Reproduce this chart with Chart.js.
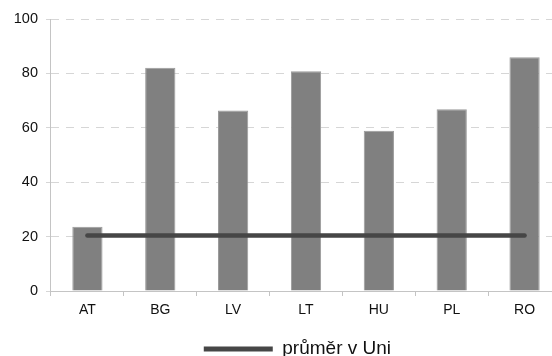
<!DOCTYPE html>
<html>
<head>
<meta charset="utf-8">
<script src="https://cdn.jsdelivr.net/npm/chart.js@4/dist/chart.umd.min.js"></script>
<style>
  html, body { margin: 0; padding: 0; background: #fff; overflow: hidden; }
  #wrap { width: 552px; height: 356px; overflow: hidden; }
  canvas { display: block; }
</style>
</head>
<body>
<div id="wrap"><canvas id="c" width="562" height="356"></canvas></div>
<script>
// Countries shown on the x axis
const countries = ['AT', 'BG', 'LV', 'LT', 'HU', 'PL', 'RO'];
// Value for each country (%)
const countryValues = [23.6, 82.1, 66.4, 80.8, 58.9, 66.8, 85.9];
// EU average, drawn as a flat line across all countries
const euAverage = 20.4;
const averageValues = countries.map(() => euAverage);
const averageLabel = 'průměr v Uni';
// Y axis range and step
const yMin = 0, yMax = 100, yStep = 20;

const FONT = '"Liberation Sans", Arial, sans-serif';

// nudges the bottom legend so it sits under the plot area
const legendShift = {
  id: 'legendShift',
  afterLayout(chart) {
    const lg = chart.legend;
    if (lg) {
      lg.left += 14; lg.right += 14;
      lg.top += 12.5; lg.bottom += 12.5;
    }
  }
};

new Chart(document.getElementById('c'), {
  data: {
    labels: countries,
    datasets: [
      {
        type: 'line',
        label: averageLabel,
        data: averageValues,
        borderColor: '#464646',
        backgroundColor: '#464646',
        borderWidth: 4.5,
        borderCapStyle: 'round',
        pointRadius: 0,
        pointHoverRadius: 0,
        order: 0
      },
      {
        type: 'bar',
        label: 'hodnota',
        data: countryValues,
        backgroundColor: '#808080',
        borderColor: '#9a9a9a',
        borderWidth: 1,
        barPercentage: 0.83,
        categoryPercentage: 0.5,
        order: 1
      }
    ]
  },
  options: {
    responsive: false,
    animation: false,
    layout: { padding: { top: 19, left: 5.8, right: 1, bottom: 0 } },
    plugins: {
      tooltip: { enabled: false },
      legend: {
        position: 'bottom',
        labels: {
          font: { family: FONT, size: 19 },
          color: '#111',
          boxWidth: 69,
          boxHeight: 5,
          padding: 2,
          generateLabels(chart) {
            return Chart.defaults.plugins.legend.labels.generateLabels(chart)
              .filter(item => item.text === averageLabel)
              .map(item => Object.assign(item, { lineWidth: 0, fillStyle: '#464646' }));
          }
        }
      }
    },
    scales: {
      x: {
        offset: true,
        grid: {
          offset: true,
          drawOnChartArea: false,
          drawTicks: true,
          tickLength: 5,
          color: '#c4c4c4'
        },
        border: { color: '#c4c4c4', width: 1 },
        ticks: { font: { family: FONT, size: 14 }, color: '#111', padding: 6.1 }
      },
      y: {
        min: yMin,
        max: yMax,
        grid: {
          color: '#d6d6d6',
          tickLength: 5,
          drawTicks: true
        },
        border: { color: '#c4c4c4', width: 1, dash: [8, 7] },
        ticks: { stepSize: yStep, font: { family: FONT, size: 14.5 }, color: '#111', padding: 8 }
      }
    }
  },
  plugins: [legendShift]
});
</script>
</body>
</html>
